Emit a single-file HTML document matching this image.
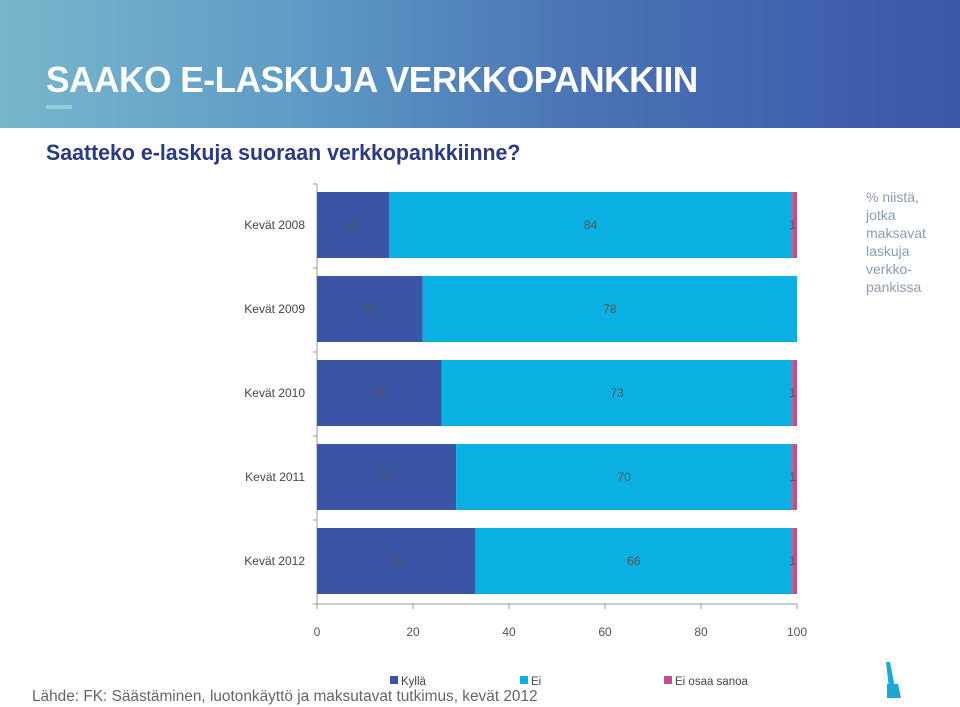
<!DOCTYPE html>
<html><head><meta charset="utf-8"><style>
body{margin:0;width:960px;height:707px;overflow:hidden;background:#fff;font-family:"Liberation Sans",sans-serif;position:relative}
#hdr{position:absolute;left:0;top:0;width:960px;height:128px;background:linear-gradient(90deg,#78b6cc 0%,#5f9cc6 30%,#4a74b6 60%,#3a56a8 100%)}
#title{position:absolute;left:46px;top:59px;color:#fff;font-weight:bold;font-size:36px;letter-spacing:-0.5px;transform-origin:0 0;transform:scaleX(0.98);white-space:nowrap}
#bar{position:absolute;left:46px;top:105px;width:26px;height:4px;background:#8fd0d8}
#sub{position:absolute;left:46px;top:140px;color:#2b3a84;font-weight:bold;font-size:22px;transform-origin:0 0;transform:scaleX(0.97);white-space:nowrap}
#note{position:absolute;left:866px;top:188px;color:#8b9bb4;font-size:14px;line-height:18px}
#src{position:absolute;left:32px;top:688px;color:#666;font-size:15.4px;white-space:nowrap}
svg{position:absolute;left:0;top:0}
</style></head><body>
<div id="hdr"></div>
<div id="title">SAAKO E-LASKUJA VERKKOPANKKIIN</div>
<div id="bar"></div>
<div id="sub">Saatteko e-laskuja suoraan verkkopankkiinne?</div>
<div id="note">% niistä,<br>jotka<br>maksavat<br>laskuja<br>verkko-<br>pankissa</div>
<div id="src">Lähde: FK: Säästäminen, luotonkäyttö ja maksutavat tutkimus, kevät 2012</div>
<svg id="chart" width="960" height="707">
<polygon points="886,662 890,662 895,688 889,688" fill="#1aa8d8"/>
<polygon points="887,684 898,684 901,698 887,698" fill="#1aa8d8"/>
</svg>
<script>
const categories=["Kevät 2008","Kevät 2009","Kevät 2010","Kevät 2011","Kevät 2012"];
const kylla=[15,22,26,29,33];
const ei=[84,78,73,70,66];
const eiOsaa=[1,0,1,1,1];
const ticks=[0,20,40,60,80,100];
const seriesNames=["Kyllä","Ei","Ei osaa sanoa"];
const colors=["#3b55a6","#0bb0e2","#c04f8a"];
const NS="http://www.w3.org/2000/svg";
const svg=document.getElementById('chart');
const X0=317,X1=797,Y0=184,Y1=604;
const x=v=>X0+(X1-X0)*v/100;
const band=(Y1-Y0)/categories.length;
const bh=66;
function mk(t,a){const e=document.createElementNS(NS,t);for(const k in a)e.setAttribute(k,a[k]);svg.appendChild(e);return e;}
let ax=mk('line',{x1:X0,y1:Y0,x2:X0,y2:Y1,stroke:'#999'});


let xa=mk('line',{x1:X0,y1:Y1,x2:X1,y2:Y1,stroke:'#999'});


for(let i=0;i<=categories.length;i++){const tk=mk('line',{x1:X0-4,x2:X0,y1:Y0+i*band,y2:Y0+i*band,stroke:'#999'});

}
ticks.forEach(t=>{const l=mk('line',{x1:x(t),x2:x(t),y1:Y1,y2:Y1+5,stroke:'#999'});


const tx=mk('text',{x:x(t),y:Y1+32,'text-anchor':'middle','font-size':12,fill:'#555'});tx.textContent=t;

});
const series=[kylla,ei,eiOsaa];
categories.forEach((c,i)=>{
 const cy=Y0+band*i+band/2-1;
 const lb=mk('text',{x:305,y:cy+4,'text-anchor':'end','font-size':12,fill:'#444'});lb.textContent=c;
 
 
 let acc=0;
 series.forEach((s,j)=>{
  const v=s[i];
  if(v>0){const r=mk('rect',{x:x(acc),y:cy-bh/2,width:x(acc+v)-x(acc),height:bh,fill:colors[j]});
  
  }
  if(v>0){const t=mk('text',{x:j==2?x(acc+v/2)-2:x(acc+v/2),y:cy+4,'text-anchor':'middle','font-size':12,fill:'#555'});t.textContent=v;
  
  }
  acc+=v;
 });
});
const lx=[390,520,664];
seriesNames.forEach((n,j)=>{
 const r=mk('rect',{x:lx[j],y:676,width:8,height:8,fill:colors[j]});
 
 
 const t=mk('text',{x:lx[j]+11,y:685,'font-size':11.5,fill:'#444'});t.textContent=n;
 
 
});
</script>
</body></html>
